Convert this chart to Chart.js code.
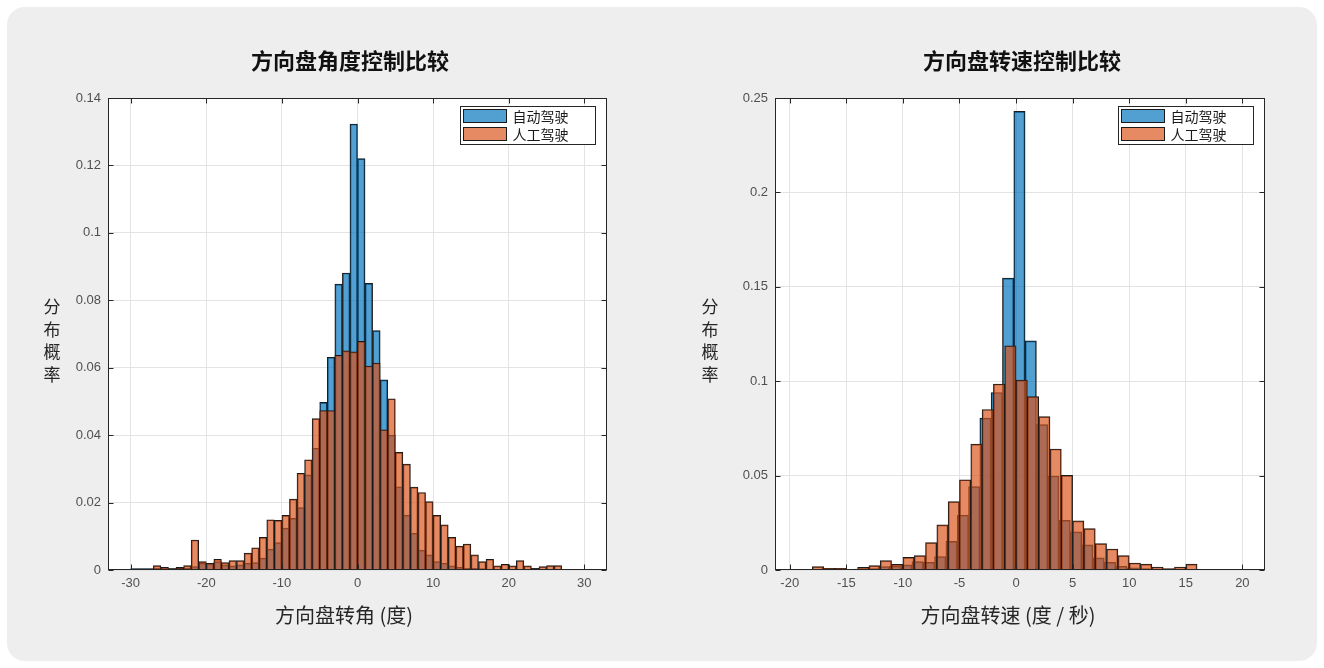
<!DOCTYPE html>
<html>
<head>
<meta charset="utf-8">
<script src="https://cdn.jsdelivr.net/npm/chart.js@4.4.1/dist/chart.umd.min.js"></script>
<style>
  html, body { margin: 0; padding: 0; background: #ffffff; }
  body { width: 1324px; height: 668px; position: relative; overflow: hidden; }
  #card { position: absolute; left: 7px; top: 7px; width: 1310px; height: 654px; border-radius: 18px; background: #eeeeee; }
  #angleChart { position: absolute; left: 0; top: 0; }
  #rateChart { position: absolute; left: 662px; top: 0; }
</style>
</head>
<body>
<div id="card"></div>
<canvas id="angleChart" width="662" height="668"></canvas>
<canvas id="rateChart" width="662" height="668"></canvas>
<script>
// ---- Steering angle histogram (bin width 1 degree, centres) ----
const angleCenters = [-29.5,-28.5,-27.5,-26.5,-25.5,-24.5,-23.5,-22.5,-21.5,-20.5,
  -19.5,-18.5,-17.5,-16.5,-15.5,-14.5,-13.5,-12.5,-11.5,-10.5,
  -9.5,-8.5,-7.5,-6.5,-5.5,-4.5,-3.5,-2.5,-1.5,-0.5,
  0.5,1.5,2.5,3.5,4.5,5.5,6.5,7.5,8.5,9.5,
  10.5,11.5,12.5,13.5,14.5,15.5,16.5,17.5,18.5,19.5,
  20.5,21.5,22.5,23.5,24.5,25.5,26.5,27.5,28.5,29.5];
const angleAuto = [0.0004,0.0004,0.0004,0.0005,0.0004,0.0004,0.0008,0.0006,0.0010,0.0020,
  0.0018,0.0025,0.0015,0.0012,0.0015,0.0020,0.0022,0.0035,0.0062,0.0081,
  0.0124,0.0153,0.0185,0.0282,0.0361,0.0497,0.0631,0.0848,0.0881,0.1323,
  0.1220,0.0850,0.0710,0.0564,0.0400,0.0247,0.0163,0.0109,0.0059,0.0045,
  0.0025,0.0020,0.0012,0.0008,0.0005,0.0005,0.0004,0.0003,0.0002,0.0002,
  0.0002,0.0002,0.0001,0.0005,0.0001,0.0001,0.0001,0,0,0];
const angleManual = [0.0003,0.0003,0.0003,0.0013,0.0008,0.0004,0.0006,0.0013,0.0089,0.0025,
  0.0020,0.0032,0.0022,0.0028,0.0028,0.0050,0.0066,0.0097,0.0149,0.0147,
  0.0162,0.0210,0.0287,0.0327,0.0449,0.0473,0.0473,0.0637,0.0650,0.0647,
  0.0678,0.0605,0.0614,0.0416,0.0508,0.0349,0.0314,0.0246,0.0230,0.0203,
  0.0162,0.0134,0.0097,0.0071,0.0077,0.0045,0.0025,0.0032,0.0012,0.0017,
  0.0012,0.0028,0.0012,0.0004,0.0010,0.0013,0.0013,0,0,0];
const angleXTicks = [-30,-20,-10,0,10,20,30];
const angleYTicks = [0,0.02,0.04,0.06,0.08,0.1,0.12,0.14];

// ---- Steering rate histogram (bin width 1 deg/s, centres) ----
const rateCentersManual = [-19.5,-18.5,-17.5,-16.5,-15.5,-14.5,-13.5,-12.5,-11.5,-10.5,
  -9.5,-8.5,-7.5,-6.5,-5.5,-4.5,-3.5,-2.5,-1.5,-0.5,
  0.5,1.5,2.5,3.5,4.5,5.5,6.5,7.5,8.5,9.5,
  10.5,11.5,12.5,13.5,14.5,15.5,16.5];
const rateCentersAuto = [-19.7,-18.7,-17.7,-16.7,-15.7,-14.7,-13.7,-12.7,-11.7,-10.7,
  -9.7,-8.7,-7.7,-6.7,-5.7,-4.7,-3.7,-2.7,-1.7,-0.7,
  0.3,1.3,2.3,3.3,4.3,5.3,6.3,7.3,8.3,9.3,
  10.3,11.3,12.3,13.3,14.3,15.3,16.3];
const rateAuto = [0,0,0.0003,0.0008,0.0008,0.0003,0.0005,0.0008,0.0018,0.0020,
  0.0027,0.0044,0.0040,0.0071,0.0152,0.0290,0.0442,0.0804,0.0940,0.1546,
  0.2429,0.1214,0.0770,0.0498,0.0263,0.0202,0.0133,0.0064,0.0040,0.0020,
  0.0012,0.0008,0.0005,0.0004,0.0003,0.0003,0.0002];
const rateManual = [0,0,0.0018,0.0009,0.0009,0.0002,0.0014,0.0023,0.0050,0.0030,
  0.0067,0.0076,0.0145,0.0239,0.0362,0.0478,0.0667,0.0850,0.0985,0.1188,
  0.1006,0.0918,0.0812,0.0641,0.0501,0.0260,0.0219,0.0140,0.0111,0.0076,
  0.0037,0.0031,0.0016,0.0007,0.0016,0.0031,0];
const rateXTicks = [-20,-15,-10,-5,0,5,10,15,20];
const rateYTicks = [0,0.05,0.1,0.15,0.2,0.25];

const seriesNames = ['自动驾驶', '人工驾驶'];
const autoFill = 'rgba(0,114,189,0.68)';
const manualFill = 'rgba(217,83,25,0.68)';
const ink = '#262626';

function points(centers, values) {
  return centers.map((c, i) => ({ x: c, y: values[i] > 0 ? values[i] : null }));
}

// Axes box, inward tick marks, boxed legend and the text around each plot
const decor = {
  id: 'decor',
  beforeDraw(chart) {
    const { ctx, chartArea: a } = chart;
    ctx.save();
    ctx.fillStyle = '#ffffff';
    ctx.fillRect(a.left, a.top, a.right - a.left, a.bottom - a.top);
    ctx.restore();
  },
  afterDatasetsDraw(chart) {
    const { ctx, chartArea: a, scales } = chart;
    const L = Math.round(a.left) + 0.5, R = Math.round(a.right) - 0.5;
    const T = Math.round(a.top) + 0.5, B = Math.round(a.bottom) - 0.5;
    ctx.save();
    ctx.strokeStyle = ink;
    ctx.lineWidth = 1;
    ctx.strokeRect(L, T, R - L, B - T);
    ctx.beginPath();
    scales.x.ticks.forEach(t => {
      const px = Math.round(scales.x.getPixelForValue(t.value)) + 0.5;
      ctx.moveTo(px, B); ctx.lineTo(px, B - 5);
      ctx.moveTo(px, T); ctx.lineTo(px, T + 5);
    });
    scales.y.ticks.forEach(t => {
      const py = Math.round(scales.y.getPixelForValue(t.value)) + 0.5;
      ctx.moveTo(L, py); ctx.lineTo(L + 5, py);
      ctx.moveTo(R, py); ctx.lineTo(R - 5, py);
    });
    ctx.stroke();

    // legend box in the upper right corner of the plot
    const bw = 135, bh = 38;
    const bx = Math.round(a.right) - 12 - bw + 0.5;
    const by = Math.round(a.top) + 8 + 0.5;
    ctx.fillStyle = '#ffffff';
    ctx.fillRect(bx, by, bw, bh);
    ctx.strokeRect(bx, by, bw, bh);
    ctx.font = '14px "Noto Sans CJK SC", sans-serif';
    ctx.textBaseline = 'middle';
    ctx.textAlign = 'left';
    chart.data.datasets.forEach((ds, i) => {
      const sy = by + 3 + i * 18;
      ctx.fillStyle = '#ffffff';
      ctx.fillRect(bx + 3, sy, 43, 13);
      ctx.fillStyle = ds.backgroundColor;
      ctx.fillRect(bx + 3, sy, 43, 13);
      ctx.strokeStyle = '#1a1a1a';
      ctx.strokeRect(bx + 3, sy, 43, 13);
      ctx.fillStyle = '#1a1a1a';
      ctx.fillText(ds.label, bx + 52, sy + 7);
    });
    ctx.restore();
  },
  afterDraw(chart, args, o) {
    const { ctx } = chart;
    ctx.save();
    ctx.fillStyle = '#111111';
    ctx.textAlign = 'center';
    ctx.textBaseline = 'middle';
    ctx.font = 'bold 22px "Noto Sans CJK SC", sans-serif';
    ctx.fillText(o.title, o.titleX, o.titleY);
    ctx.fillStyle = ink;
    ctx.font = '20px "Noto Sans CJK SC", sans-serif';
    ctx.fillText(o.xTitle, o.xTitleX, o.xTitleY);
    ctx.font = '17px "Noto Sans CJK SC", sans-serif';
    o.yTitle.split('').forEach((ch, i) => {
      ctx.fillText(ch, o.yTitleX, o.yTitleY + i * 22.5);
    });
    ctx.restore();
  }
};

function makeChart(id, cfg) {
  const tickFont = { family: '"Liberation Sans", Arial, sans-serif', size: 13 };
  const xScale = (ticks) => ({
    type: 'linear', position: 'bottom', min: cfg.xMin, max: cfg.xMax, offset: false,
    afterBuildTicks: s => { s.ticks = ticks.map(v => ({ value: v })); }
  });
  return new Chart(document.getElementById(id), {
    type: 'bar',
    data: {
      datasets: [
        { label: seriesNames[0], data: points(cfg.autoX, cfg.auto), xAxisID: 'xAuto',
          backgroundColor: autoFill, borderColor: '#1a1a1a', borderWidth: 1,
          grouped: false, order: 1, barPercentage: 1, categoryPercentage: 1 },
        { label: seriesNames[1], data: points(cfg.manualX, cfg.manual), xAxisID: 'x',
          backgroundColor: manualFill, borderColor: '#1a1a1a', borderWidth: 1,
          grouped: false, order: 0, barPercentage: 1, categoryPercentage: 1 }
      ]
    },
    options: {
      responsive: false,
      devicePixelRatio: 1,
      animation: false,
      layout: { padding: cfg.padding },
      plugins: {
        legend: { display: false },
        tooltip: { enabled: false },
        decor: cfg.text
      },
      scales: {
        x: Object.assign(xScale(cfg.xTicks), {
          afterFit: s => { s.height = 30; },
          grid: { color: '#e3e3e3', drawTicks: false, offset: false },
          border: { display: false },
          ticks: { font: tickFont, color: '#505050', padding: 6, maxRotation: 0,
                   callback: v => String(v) }
        }),
        xAuto: Object.assign(xScale(cfg.xTicks), { display: false }),
        y: {
          type: 'linear', min: 0, max: cfg.yTicks[cfg.yTicks.length - 1],
          afterBuildTicks: s => { s.ticks = cfg.yTicks.map(v => ({ value: v })); },
          afterFit: s => { s.width = 50; },
          grid: { color: '#e3e3e3', drawTicks: false },
          border: { display: false },
          ticks: { font: tickFont, color: '#505050', padding: 7, callback: v => String(v) }
        }
      }
    },
    plugins: [decor]
  });
}

makeChart('angleChart', {
  autoX: angleCenters, manualX: angleCenters, auto: angleAuto, manual: angleManual,
  xMin: -33, xMax: 33, xTicks: angleXTicks, yTicks: angleYTicks,
  padding: { left: 58, right: 55, top: 98, bottom: 68 },
  text: { title: '方向盘角度控制比较', titleX: 350, titleY: 61,
          xTitle: '方向盘转角 (度)', xTitleX: 344, xTitleY: 615,
          yTitle: '分布概率', yTitleX: 52, yTitleY: 307 }
});

makeChart('rateChart', {
  autoX: rateCentersAuto, manualX: rateCentersManual, auto: rateAuto, manual: rateManual,
  xMin: -21.3, xMax: 22, xTicks: rateXTicks, yTicks: rateYTicks,
  padding: { left: 63, right: 59, top: 98, bottom: 68 },
  text: { title: '方向盘转速控制比较', titleX: 360, titleY: 61,
          xTitle: '方向盘转速 (度 / 秒)', xTitleX: 346, xTitleY: 615,
          yTitle: '分布概率', yTitleX: 48, yTitleY: 307 }
});
</script>
</body>
</html>
